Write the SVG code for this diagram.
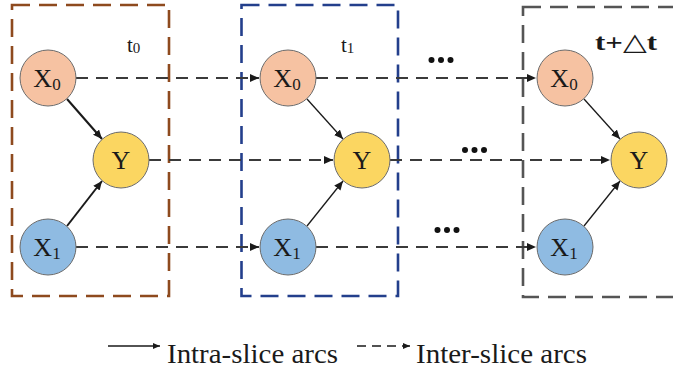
<svg xmlns="http://www.w3.org/2000/svg" width="673" height="372" viewBox="0 0 673 372">
<style>
  .slice { fill: none; stroke-width: 2.6; stroke-dasharray: 18 9; }
  .node { stroke: #6b6b6b; stroke-width: 1; }
  .x0 { fill: #f6c2a2; }
  .y { fill: #fbd661; }
  .x1 { fill: #8fbbe2; }
  .lbl { font-family: "Liberation Serif", "DejaVu Serif", serif; fill: #1a1a1a; }
  .inter { fill: none; stroke: #3a3a3a; stroke-width: 1.8; stroke-dasharray: 12 8; }
  .intra { fill: none; stroke: #1a1a1a; }
  .dot { fill: #111; }
</style>
<defs>
  <marker id="ah" markerUnits="userSpaceOnUse" markerWidth="10" markerHeight="8" refX="9" refY="4" orient="auto">
    <path d="M0,0 L9,4 L0,8 Z" fill="#1a1a1a"/>
  </marker>
  <marker id="ahs" markerUnits="userSpaceOnUse" markerWidth="8" markerHeight="6" refX="7" refY="3" orient="auto">
    <path d="M0,0 L7,3 L0,6 Z" fill="#1a1a1a"/>
  </marker>
</defs>
<rect width="673" height="372" fill="#ffffff"/>

<g id="slice-t0">
  <rect class="slice" x="12" y="5" width="157" height="291" stroke="#8e4a1e"/>
  <text class="lbl" x="127" y="52" font-size="21">t<tspan font-size="15" dy="1">0</tspan></text>
</g>
<g id="slice-t1">
  <rect class="slice" x="241.5" y="5" width="156.5" height="291" stroke="#233f8c"/>
  <text class="lbl" x="341" y="52" font-size="21">t<tspan font-size="15" dy="1">1</tspan></text>
</g>
<g id="slice-tdt">
  <rect class="slice" x="523" y="7" width="160" height="290" stroke="#555555"/>
  <text class="lbl" x="595" y="50" font-size="24" font-weight="bold" textLength="62" lengthAdjust="spacingAndGlyphs">t+△t</text>
</g>

<g id="connectors">
  <line class="inter" x1="76" y1="78" x2="259" y2="78" marker-end="url(#ah)"/>
  <line class="inter" x1="149" y1="160" x2="333" y2="160" marker-end="url(#ah)"/>
  <line class="inter" x1="76" y1="247" x2="259" y2="247" marker-end="url(#ah)"/>
  <line class="inter" x1="316" y1="78" x2="536" y2="78" marker-end="url(#ah)"/>
  <line class="inter" x1="390" y1="160" x2="610" y2="160" marker-end="url(#ah)"/>
  <line class="inter" x1="316" y1="247" x2="536" y2="247" marker-end="url(#ah)"/>
  <line class="intra" stroke-width="2" x1="67" y1="99" x2="102" y2="139" marker-end="url(#ah)"/>
  <line class="intra" stroke-width="2" x1="67" y1="226" x2="102" y2="181" marker-end="url(#ah)"/>
  <line class="intra" stroke-width="1.3" x1="307" y1="99" x2="343" y2="139" marker-end="url(#ah)"/>
  <line class="intra" stroke-width="1.3" x1="307" y1="226" x2="343" y2="181" marker-end="url(#ah)"/>
  <line class="intra" stroke-width="1.3" x1="584" y1="99" x2="620" y2="139" marker-end="url(#ah)"/>
  <line class="intra" stroke-width="1.3" x1="584" y1="226" x2="620" y2="181" marker-end="url(#ah)"/>
</g>

<g id="ellipsis">
  <circle class="dot" cx="431.5" cy="60" r="3"/><circle class="dot" cx="441" cy="60" r="3"/><circle class="dot" cx="450.5" cy="60" r="3"/>
  <circle class="dot" cx="465" cy="150" r="3"/><circle class="dot" cx="474.5" cy="150" r="3"/><circle class="dot" cx="484" cy="150" r="3"/>
  <circle class="dot" cx="437.5" cy="230" r="3"/><circle class="dot" cx="447" cy="230" r="3"/><circle class="dot" cx="456.5" cy="230" r="3"/>
</g>

<g id="t0-X0"><circle class="node x0" cx="48" cy="78" r="28"/><text class="lbl" x="47" y="87" font-size="26" text-anchor="middle">X<tspan font-size="17" dy="3">0</tspan></text></g>
<g id="t0-Y"><circle class="node y" cx="121" cy="160" r="28"/><text class="lbl" x="121" y="168.5" font-size="26" text-anchor="middle">Y</text></g>
<g id="t0-X1"><circle class="node x1" cx="48" cy="247" r="28"/><text class="lbl" x="47" y="256" font-size="26" text-anchor="middle">X<tspan font-size="17" dy="3">1</tspan></text></g>

<g id="t1-X0"><circle class="node x0" cx="288" cy="78" r="28"/><text class="lbl" x="287" y="87" font-size="26" text-anchor="middle">X<tspan font-size="17" dy="3">0</tspan></text></g>
<g id="t1-Y"><circle class="node y" cx="362" cy="160" r="28"/><text class="lbl" x="362" y="168.5" font-size="26" text-anchor="middle">Y</text></g>
<g id="t1-X1"><circle class="node x1" cx="288" cy="247" r="28"/><text class="lbl" x="287" y="256" font-size="26" text-anchor="middle">X<tspan font-size="17" dy="3">1</tspan></text></g>

<g id="tdt-X0"><circle class="node x0" cx="565" cy="78" r="28"/><text class="lbl" x="564" y="87" font-size="26" text-anchor="middle">X<tspan font-size="17" dy="3">0</tspan></text></g>
<g id="tdt-Y"><circle class="node y" cx="639" cy="160" r="28"/><text class="lbl" x="639" y="168.5" font-size="26" text-anchor="middle">Y</text></g>
<g id="tdt-X1"><circle class="node x1" cx="565" cy="247" r="28"/><text class="lbl" x="564" y="256" font-size="26" text-anchor="middle">X<tspan font-size="17" dy="3">1</tspan></text></g>

<g id="legend">
  <line x1="108" y1="346" x2="160" y2="346" stroke="#1a1a1a" stroke-width="1.3" marker-end="url(#ahs)"/>
  <text class="lbl" x="167" y="363" font-size="27" textLength="171" lengthAdjust="spacingAndGlyphs">Intra-slice arcs</text>
  <line x1="357" y1="346" x2="410" y2="346" stroke="#1a1a1a" stroke-width="1.3" stroke-dasharray="9 6" marker-end="url(#ahs)"/>
  <text class="lbl" x="416" y="363" font-size="27" textLength="171" lengthAdjust="spacingAndGlyphs">Inter-slice arcs</text>
</g>
</svg>
